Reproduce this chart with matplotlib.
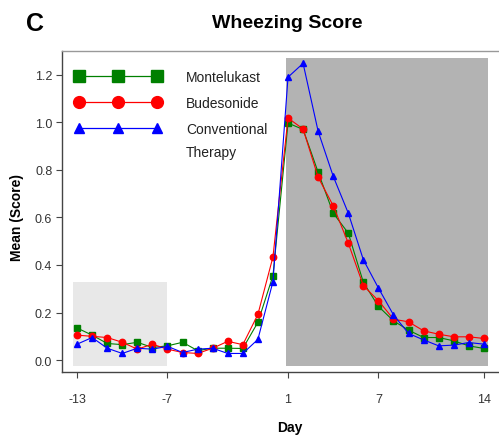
import matplotlib
matplotlib.use("Agg")
import matplotlib.pyplot as plt
from matplotlib.lines import Line2D
from matplotlib.patches import Rectangle

days = [-13, -12, -11, -10, -9, -8, -7, -6, -5, -4, -3, -2, -1, 0,
        1, 2, 3, 4, 5, 6, 7, 8, 9, 10, 11, 12, 13, 14]
montelukast = [0.135, 0.105, 0.07, 0.065, 0.075, 0.053, 0.06, 0.075, 0.04, 0.05, 0.05, 0.049, 0.159, 0.355,
               0.997, 0.97, 0.79, 0.618, 0.534, 0.327, 0.226, 0.165, 0.126, 0.095, 0.095, 0.081, 0.06, 0.049]
budesonide = [0.105, 0.10, 0.095, 0.075, 0.046, 0.067, 0.046, 0.032, 0.028, 0.05, 0.079, 0.065, 0.192, 0.434,
              1.018, 0.972, 0.769, 0.649, 0.492, 0.313, 0.25, 0.172, 0.161, 0.123, 0.109, 0.098, 0.098, 0.091]
conventional = [0.067, 0.095, 0.05, 0.028, 0.05, 0.046, 0.058, 0.032, 0.046, 0.05, 0.028, 0.028, 0.087, 0.33,
                1.19, 1.248, 0.962, 0.773, 0.618, 0.422, 0.303, 0.19, 0.112, 0.085, 0.06, 0.063, 0.074, 0.067]
xticks = [-13, -7, 1, 7, 14]
yticks = [0.0, 0.2, 0.4, 0.6, 0.8, 1.0, 1.2]
series_names = ["Montelukast", "Budesonide", "Conventional"]

W, H = 499, 439
fig = plt.figure(figsize=(W / 100, H / 100), dpi=100)
plt.rcParams['font.family'] = ['Liberation Sans', 'DejaVu Sans']

def fx(px):
    return px / W

def fy(py):
    return 1 - py / H

ax = fig.add_axes([fx(62), fy(373), fx(505) - fx(62), fy(52) - fy(373)])
ax.set_xlim(-14.0, 15.4)
ax.set_ylim(-0.05, 1.30)

# shaded periods
ax.add_patch(Rectangle((-13.3, -0.025), 6.3, 0.352, facecolor='#e8e8e8', edgecolor='none', zorder=0))
ax.add_patch(Rectangle((0.85, -0.025), 13.4, 1.295, facecolor='#b3b3b3', edgecolor='none', zorder=0))

ax.plot(days, montelukast, color='#008000', lw=0.8, marker='s', ms=4, zorder=3)
ax.plot(days, budesonide, color='#ff0000', lw=0.8, marker='o', ms=4.6, zorder=4)
ax.plot(days, conventional, color='#0000ff', lw=0.8, marker='^', ms=4, zorder=5)

ax.set_xticks(xticks)
ax.set_xticklabels([str(t) for t in xticks])
ax.set_yticks(yticks)
ax.set_yticklabels([f"{t:.1f}" for t in yticks])
ax.tick_params(axis='both', direction='out', length=4, width=0.8, color='#444444',
               labelsize=9, labelcolor='#333333')
ax.tick_params(axis='x', pad=11)
ax.tick_params(axis='y', pad=3)

for s in ['left', 'bottom']:
    ax.spines[s].set_color('#444444')
    ax.spines[s].set_linewidth(1.0)
ax.spines['top'].set_color('#999999')
ax.spines['top'].set_linewidth(1.0)
ax.spines['right'].set_visible(False)

handles = [
    Line2D([], [], color='#008000', lw=0.9, marker='s', ms=8.5),
    Line2D([], [], color='#ff0000', lw=0.9, marker='o', ms=8.5),
    Line2D([], [], color='#0000ff', lw=0.9, marker='^', ms=6.5),
]
leg = ax.legend(handles, series_names, numpoints=3, handlelength=6.2, handletextpad=1.8,
                frameon=False, fontsize=10, labelspacing=0.85, borderpad=0, borderaxespad=0,
                loc='upper left', bbox_to_anchor=(fx(75), fy(71)), bbox_transform=fig.transFigure)
for t in leg.get_texts():
    t.set_color('#222222')
fig.text(fx(186), fy(153), "Therapy", fontsize=10, color='#222222', va='center', ha='left')

fig.text(fx(287), fy(23), "Wheezing Score", fontsize=14, fontweight='bold', ha='center', va='center')
fig.text(fx(35), fy(24), "C", fontsize=18, fontweight='bold', ha='center', va='center')
fig.text(fx(17), fy(218), "Mean (Score)", fontsize=10, fontweight='bold', rotation=90, ha='center', va='center')
fig.text(fx(290), fy(428), "Day", fontsize=10, fontweight='bold', ha='center', va='center')

fig.savefig("out.png", dpi=100)
